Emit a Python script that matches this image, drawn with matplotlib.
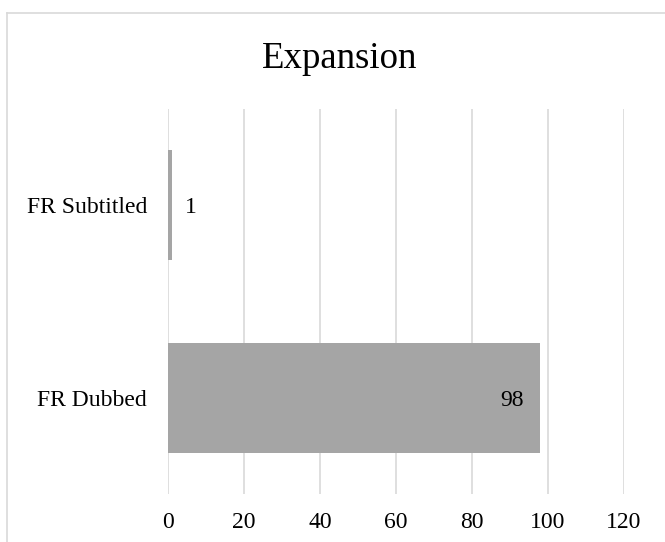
import matplotlib.pyplot as plt
from matplotlib.lines import Line2D

# data
categories = ["FR Dubbed", "FR Subtitled"]
values = [98, 1]
x_ticks = [0, 20, 40, 60, 80, 100, 120]

plt.rcParams['font.family'] = ['Liberation Serif', 'DejaVu Serif']

W, H = 665, 542
fig = plt.figure(figsize=(W / 100, H / 100), dpi=100)
ax = fig.add_axes([168 / W, 1 - 494 / H, (624 - 168) / W, (494 - 109) / H])

bar_color = '#A5A5A5'
grid_color = '#D9D9D9'
fs = 17

ypos = list(range(len(categories)))
ax.barh(ypos, values, height=0.57, color=bar_color, zorder=3)

ax.set_xlim(0, 120)
ax.set_ylim(-0.5, len(categories) - 0.5)
ax.set_xticks(x_ticks)
ax.set_xticklabels([str(t) for t in x_ticks])
ax.set_yticks(ypos)
ax.set_yticklabels(categories)
ax.tick_params(axis='x', length=0, pad=13, labelsize=fs)
ax.tick_params(axis='y', length=0, pad=15, labelsize=fs)
for lbl in ax.get_yticklabels():
    lbl.set_va('center_baseline')

ax.grid(axis='x', color=grid_color, linewidth=1.2, zorder=0)
for s in ax.spines.values():
    s.set_visible(False)

# value labels: inside the end for long bars, outside for short ones
for y, v in zip(ypos, values):
    if v > 10:
        ax.text(v - 4.3, y, str(v), ha='right', va='center_baseline', fontsize=fs, zorder=4)
    else:
        ax.text(v + 3.4, y, str(v), ha='left', va='center_baseline', fontsize=fs, zorder=4)

fig.text(339.5 / W, 1 - 68 / H, "Expansion", ha='center', va='baseline', fontsize=26.5)

# chart frame (left and top edges)
fig.add_artist(Line2D([7 / W, 7 / W], [0, 1 - 13 / H], transform=fig.transFigure,
                      color=grid_color, linewidth=1.2))
fig.add_artist(Line2D([7 / W, 1], [1 - 13 / H, 1 - 13 / H], transform=fig.transFigure,
                      color=grid_color, linewidth=1.2))

fig.savefig('out.png', dpi=100)
